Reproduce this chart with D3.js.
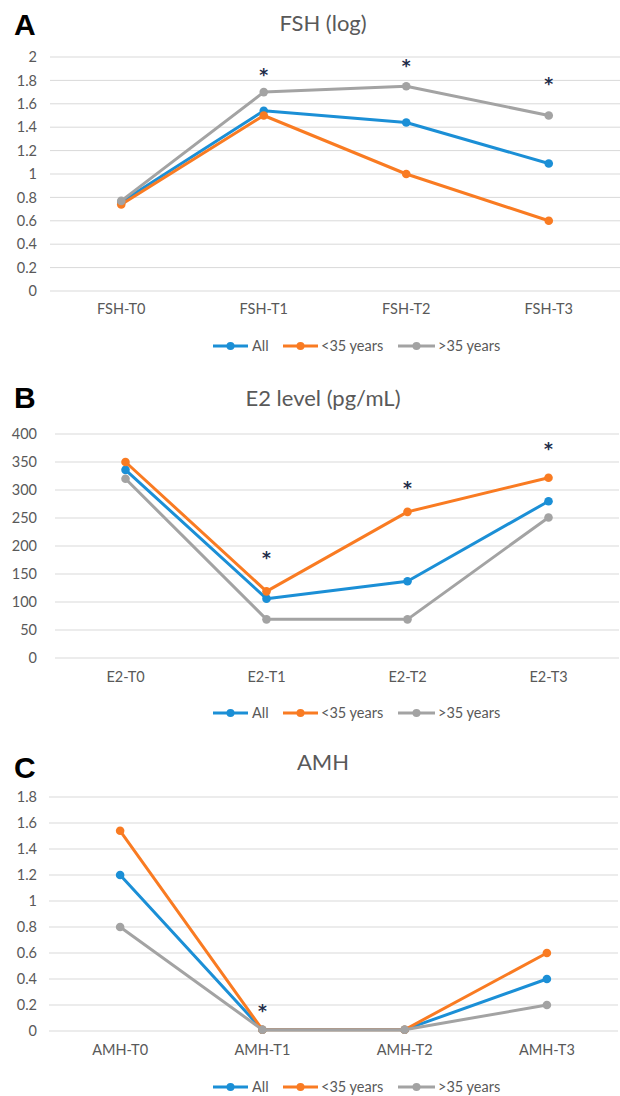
<!DOCTYPE html>
<html><head><meta charset="utf-8">
<script src="https://cdn.jsdelivr.net/npm/d3@7"></script>
<style>body{margin:0;background:#fff}svg{display:block}</style>
</head><body>
<svg id="c" width="620" height="1096"></svg>
<script>
const seriesNames = ["All", "<35 years", ">35 years"];
const seriesColors = ["#1b8fd6", "#f97b22", "#a3a3a3"];

const fshCategories = ["FSH-T0", "FSH-T1", "FSH-T2", "FSH-T3"];
const fshAll = [0.76, 1.54, 1.44, 1.09];
const fshUnder35 = [0.74, 1.50, 1.00, 0.60];
const fshOver35 = [0.77, 1.70, 1.75, 1.50];
const fshTicks = [0, 0.2, 0.4, 0.6, 0.8, 1, 1.2, 1.4, 1.6, 1.8, 2];
const fshStars = [["FSH-T1", 1.89], ["FSH-T2", 1.97], ["FSH-T3", 1.81]];

const e2Categories = ["E2-T0", "E2-T1", "E2-T2", "E2-T3"];
const e2All = [336, 106, 137, 280];
const e2Under35 = [350, 119, 261, 322];
const e2Over35 = [320, 69, 69, 251];
const e2Ticks = [0, 50, 100, 150, 200, 250, 300, 350, 400];
const e2Stars = [["E2-T1", 187], ["E2-T2", 313], ["E2-T3", 383]];

const amhCategories = ["AMH-T0", "AMH-T1", "AMH-T2", "AMH-T3"];
const amhAll = [1.20, 0.01, 0.01, 0.40];
const amhUnder35 = [1.54, 0.01, 0.01, 0.60];
const amhOver35 = [0.80, 0.01, 0.01, 0.20];
const amhTicks = [0, 0.2, 0.4, 0.6, 0.8, 1, 1.2, 1.4, 1.6, 1.8];
const amhStars = [["AMH-T1", 0.19]];

const svg = d3.select("#c");
const FONT = "Lato, 'Open Sans', sans-serif";
const TXT = "#595959";

function panel(cfg) {
  const g = svg.append("g");
  g.append("text").attr("x", 14).attr("y", cfg.letterY)
    .attr("font-family", "'Liberation Sans', Arial, sans-serif").attr("font-weight", "bold")
    .attr("font-size", 30).attr("fill", "#000").text(cfg.letter);
  g.append("text").attr("x", 323).attr("y", cfg.titleY).attr("text-anchor", "middle")
    .attr("font-family", FONT).attr("font-size", 22).attr("fill", TXT).text(cfg.title);

  const x = d3.scaleBand().domain(cfg.categories).range([cfg.left, cfg.right]);
  const y = d3.scaleLinear().domain([0, cfg.max]).range([cfg.y0, cfg.yTop]);

  g.append("g").selectAll("line").data(cfg.ticks).join("line")
    .attr("x1", cfg.left).attr("x2", cfg.right)
    .attr("y1", d => y(d)).attr("y2", d => y(d))
    .attr("stroke", "#d9d9d9").attr("stroke-width", 1);

  const ya = g.append("g").attr("transform", `translate(${cfg.left},0)`)
    .call(d3.axisLeft(y).tickValues(cfg.ticks).tickSize(0).tickPadding(cfg.left - 37).tickFormat(d => String(d)));
  ya.select(".domain").remove();
  ya.selectAll("text").attr("font-family", FONT).attr("font-size", 14.5).attr("fill", TXT);

  const xa = g.append("g").attr("transform", `translate(0,${cfg.y0})`)
    .call(d3.axisBottom(x).tickSize(0).tickPadding(cfg.xLabelPad));
  xa.select(".domain").remove();
  xa.selectAll("text").attr("font-family", FONT).attr("font-size", 14.5).attr("fill", TXT);

  const cx = c => x(c) + x.bandwidth() / 2;
  const line = d3.line().x((d, i) => cx(cfg.categories[i])).y(d => y(d));

  cfg.series.forEach((vals, si) => {
    g.append("path").datum(vals).attr("d", line)
      .attr("fill", "none").attr("stroke", seriesColors[si]).attr("stroke-width", 3)
      .attr("stroke-linejoin", "round");
    g.append("g").selectAll("circle").data(vals).join("circle")
      .attr("cx", (d, i) => cx(cfg.categories[i])).attr("cy", d => y(d)).attr("r", 4.3)
      .attr("fill", seriesColors[si]);
  });

  g.append("g").selectAll("text").data(cfg.stars).join("text")
    .attr("x", d => cx(d[0])).attr("y", d => y(d[1]) + 11)
    .attr("text-anchor", "middle").attr("font-family", "'DejaVu Sans', sans-serif").attr("font-size", 17)
    .attr("font-weight", "bold").attr("fill", "#1f2d4a").text("*");

  const lg = g.append("g").attr("transform", `translate(0,${cfg.legendY})`);
  const items = [[213, 248, 252], [283, 318, 321], [398, 435, 438]];
  seriesNames.forEach((n, i) => {
    const [a, b, t] = items[i];
    lg.append("line").attr("x1", a).attr("x2", b).attr("y1", 0).attr("y2", 0)
      .attr("stroke", seriesColors[i]).attr("stroke-width", 3);
    lg.append("circle").attr("cx", (a + b) / 2).attr("cy", 0).attr("r", 4).attr("fill", seriesColors[i]);
    lg.append("text").attr("x", t).attr("y", 0).attr("dy", "0.35em")
      .attr("font-family", FONT).attr("font-size", 14.5).attr("fill", TXT).text(n);
  });
}

panel({letter: "A", letterY: 35, title: "FSH (log)", titleY: 31,
  categories: fshCategories, series: [fshAll, fshUnder35, fshOver35], ticks: fshTicks, max: 2,
  stars: fshStars, left: 50, right: 620, y0: 291, yTop: 57, xLabelPad: 13, legendY: 346});
panel({letter: "B", letterY: 408, title: "E2 level (pg/mL)", titleY: 406,
  categories: e2Categories, series: [e2All, e2Under35, e2Over35], ticks: e2Ticks, max: 400,
  stars: e2Stars, left: 55, right: 619, y0: 658, yTop: 434, xLabelPad: 14, legendY: 713});
panel({letter: "C", letterY: 778, title: "AMH", titleY: 770,
  categories: amhCategories, series: [amhAll, amhUnder35, amhOver35], ticks: amhTicks, max: 1.8,
  stars: amhStars, left: 49, right: 618, y0: 1031, yTop: 797, xLabelPad: 14, legendY: 1087});
</script>
</body></html>
